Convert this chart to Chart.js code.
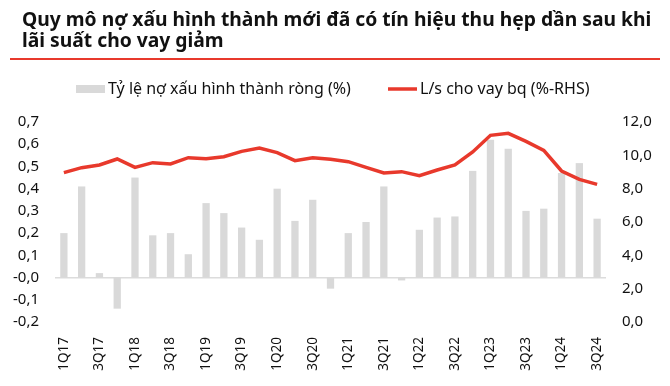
<!DOCTYPE html>
<html>
<head>
<meta charset="utf-8">
<script src="https://cdn.jsdelivr.net/npm/chart.js@4/dist/chart.umd.min.js"></script>
<style>
  html, body { margin: 0; padding: 0; background: #fff; }
  #wrap { position: relative; width: 670px; height: 386px; }
  #title {
    position: absolute; left: 22px; top: 8px;
    font: bold 19.3px "Noto Sans", "Liberation Sans", sans-serif;
    line-height: 21px; color: #111; white-space: nowrap;
  }
  #rule { position: absolute; left: 10px; top: 58px; width: 650px; height: 2px; background: #e8392c; }
  canvas { position: absolute; left: 0; top: 0; }
</style>
</head>
<body>
<div id="wrap">
  <canvas id="chart" width="670" height="386"></canvas>
  <div id="title">Quy mô nợ xấu hình thành mới đã có tín hiệu thu hẹp dần sau khi<br>lãi suất cho vay giảm</div>
  <div id="rule"></div>
</div>
<script>
// quarters 1Q17 .. 3Q24
const quarters = [
  '1Q17', '2Q17', '3Q17', '4Q17', '1Q18', '2Q18', '3Q18', '4Q18',
  '1Q19', '2Q19', '3Q19', '4Q19', '1Q20', '2Q20', '3Q20', '4Q20',
  '1Q21', '2Q21', '3Q21', '4Q21', '1Q22', '2Q22', '3Q22', '4Q22',
  '1Q23', '2Q23', '3Q23', '4Q23', '1Q24', '2Q24', '3Q24'
];

// net new NPL formation ratio (%), left axis
const netNplFormation = [
  0.20, 0.41, 0.02, -0.14, 0.45, 0.19, 0.20, 0.105,
  0.335, 0.29, 0.225, 0.17, 0.40, 0.255, 0.35, -0.05,
  0.20, 0.25, 0.41, -0.013, 0.215, 0.27, 0.275, 0.48,
  0.62, 0.58, 0.30, 0.31, 0.47, 0.515, 0.265
];

// average lending rate (%), right axis
const lendingRate = [
  8.96, 9.26, 9.42, 9.78, 9.28, 9.56, 9.48, 9.86,
  9.80, 9.92, 10.24, 10.44, 10.16, 9.68, 9.86, 9.76,
  9.62, 9.28, 8.94, 9.02, 8.78, 9.12, 9.42, 10.20,
  11.20, 11.32, 10.84, 10.30, 9.06, 8.56, 8.26
];

const barLabel = 'Tỷ lệ nợ xấu hình thành ròng (%)';
const lineLabel = 'L/s cho vay bq (%-RHS)';

const GREY = '#d9d9d9';
const RED = '#e8392c';
const FONT = '"Noto Sans", "Liberation Sans", sans-serif';

const comma = (v, d) => v.toFixed(d).replace('.', ',');

// legend drawn by hand so the swatches match the original
const legendPlugin = {
  id: 'customLegend',
  afterDraw(chart) {
    const ctx = chart.ctx;
    ctx.save();
    ctx.font = '16px ' + FONT;
    ctx.textBaseline = 'middle';
    ctx.fillStyle = GREY;
    ctx.fillRect(76, 85, 29, 8);
    ctx.fillStyle = '#111';
    ctx.fillText(barLabel, 108, 89);
    ctx.strokeStyle = RED;
    ctx.lineWidth = 3.5;
    ctx.beginPath();
    ctx.moveTo(388, 89);
    ctx.lineTo(417, 89);
    ctx.stroke();
    ctx.fillText(lineLabel, 420, 89);
    ctx.restore();
  }
};

new Chart(document.getElementById('chart'), {
  data: {
    labels: quarters,
    datasets: [
      {
        type: 'line',
        label: lineLabel,
        data: lendingRate,
        yAxisID: 'y1',
        borderColor: RED,
        borderWidth: 3.5,
        pointRadius: 0,
        tension: 0,
        order: 0
      },
      {
        type: 'bar',
        label: barLabel,
        data: netNplFormation,
        yAxisID: 'y',
        backgroundColor: GREY,
        categoryPercentage: 1,
        barPercentage: 0.41,
        order: 1
      }
    ]
  },
  options: {
    responsive: false,
    animation: false,
    layout: { padding: { top: 122, left: 0, right: 0, bottom: 0 } },
    plugins: {
      legend: { display: false },
      tooltip: { enabled: false }
    },
    scales: {
      x: {
        grid: { display: false, drawTicks: false },
        border: { display: false },
        afterFit: s => { s.height = 64; },
        ticks: {
          autoSkip: false,
          minRotation: 90,
          maxRotation: 90,
          padding: 15,
          color: '#111',
          font: { family: FONT, size: 13.5 },
          callback: (v, i) => (i % 2 === 0 ? quarters[i] : '')
        }
      },
      y: {
        position: 'left',
        min: -0.2,
        max: 0.7,
        afterFit: s => { s.width = 55; },
        border: { display: false },
        grid: {
          drawTicks: false,
          color: c => (c.tick && Math.abs(c.tick.value) < 1e-9 ? '#dcdcdc' : 'transparent'),
          lineWidth: 1.5
        },
        ticks: {
          stepSize: 0.1,
          padding: 16,
          color: '#111',
          font: { family: FONT, size: 15 },
          callback: v => comma(v, 1)
        }
      },
      y1: {
        position: 'right',
        min: 0,
        max: 12,
        afterFit: s => { s.width = 64; },
        border: { display: false },
        grid: { display: false, drawTicks: false },
        ticks: {
          stepSize: 2,
          padding: 16,
          color: '#111',
          font: { family: FONT, size: 15 },
          callback: v => comma(v, 1)
        }
      }
    }
  },
  plugins: [legendPlugin]
});
</script>
</body>
</html>
